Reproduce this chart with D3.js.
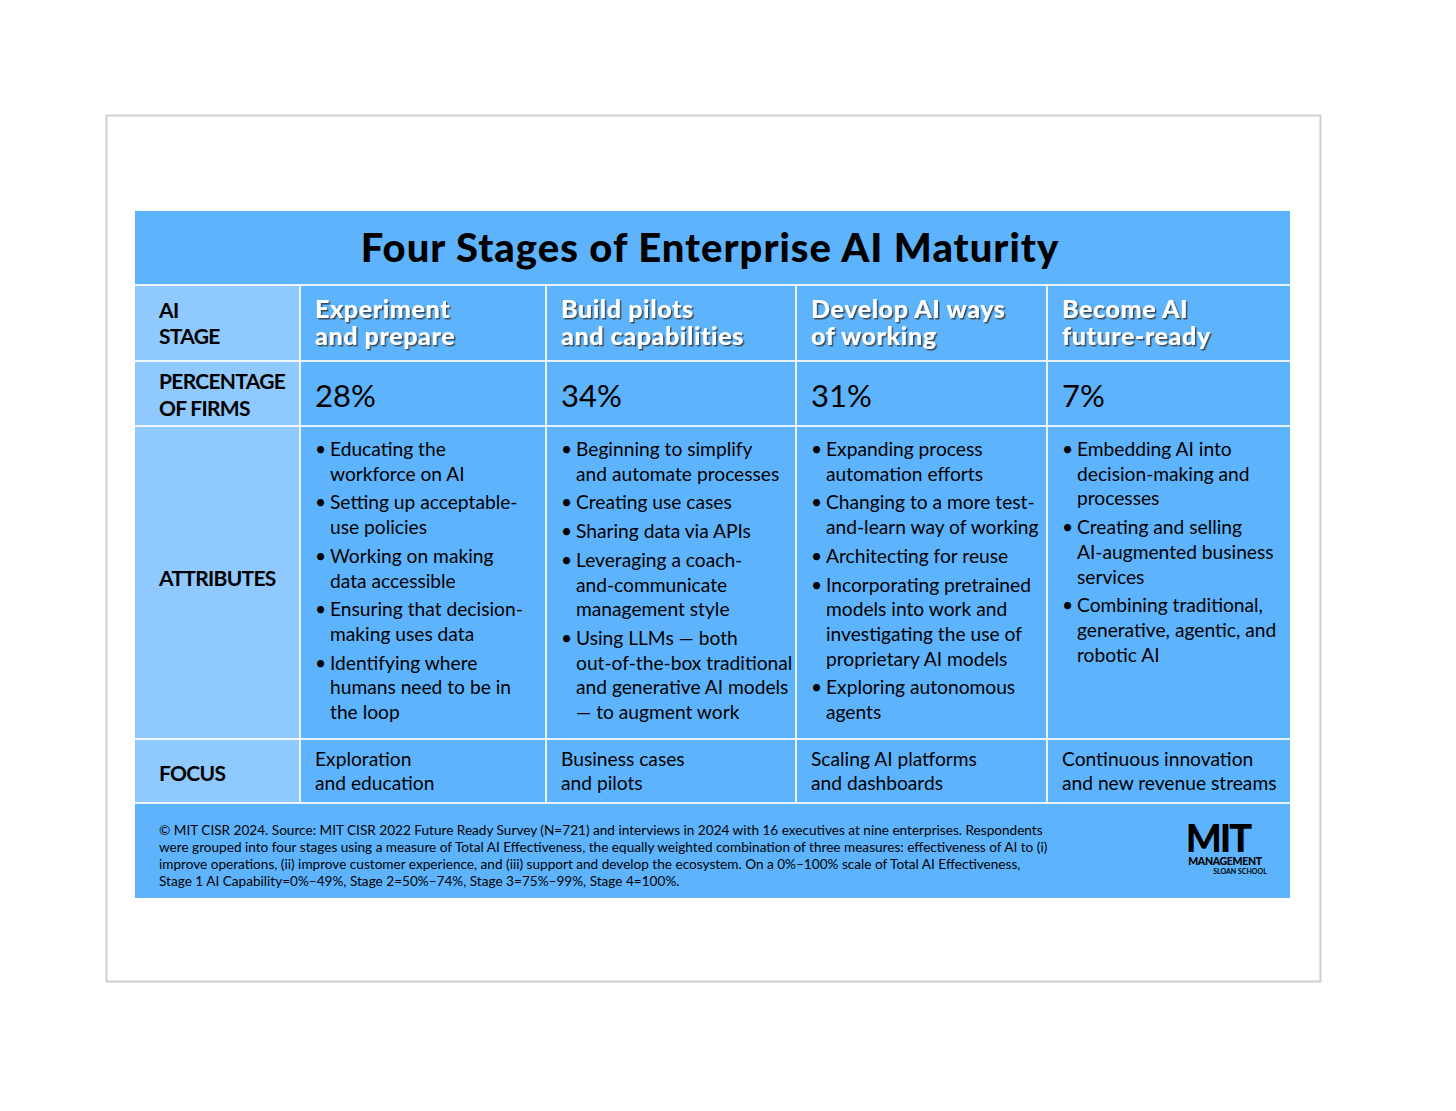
<!DOCTYPE html>
<html>
<head>
<meta charset="utf-8">
<script src="https://cdn.jsdelivr.net/npm/d3@7"></script>
<style>
body { margin: 0; background: #fff; }
text { font-family: "Lato", "Open Sans", sans-serif; }
</style>
</head>
<body>
<svg id="chart" width="1456" height="1111"></svg>
<script>
var title = "Four Stages of Enterprise AI Maturity"
var rowLabels = [["AI", "STAGE"], ["PERCENTAGE", "OF FIRMS"], ["ATTRIBUTES"], ["FOCUS"]]
var stages = [["Experiment", "and prepare"], ["Build pilots", "and capabilities"], ["Develop AI ways", "of working"], ["Become AI", "future-ready"]]
var percentages = ["28%", "34%", "31%", "7%"]
var attributes = [
    [["Educating the", "workforce on AI"], ["Setting up acceptable-", "use policies"], ["Working on making", "data accessible"], ["Ensuring that decision-", "making uses data"], ["Identifying where", "humans need to be in", "the loop"]],
    [["Beginning to simplify", "and automate processes"], ["Creating use cases"], ["Sharing data via APIs"], ["Leveraging a coach-", "and-communicate", "management style"], ["Using LLMs \u2014 both", "out-of-the-box traditional", "and generative AI models", "\u2014 to augment work"]],
    [["Expanding process", "automation efforts"], ["Changing to a more test-", "and-learn way of working"], ["Architecting for reuse"], ["Incorporating pretrained", "models into work and", "investigating the use of", "proprietary AI models"], ["Exploring autonomous", "agents"]],
    [["Embedding AI into", "decision-making and", "processes"], ["Creating and selling", "AI-augmented business", "services"], ["Combining traditional,", "generative, agentic, and", "robotic AI"]]
]
var focus = [["Exploration", "and education"], ["Business cases", "and pilots"], ["Scaling AI platforms", "and dashboards"], ["Continuous innovation", "and new revenue streams"]]
var footnote = [
    "\u00a9 MIT CISR 2024. Source: MIT CISR 2022 Future Ready Survey (N=721) and interviews in 2024 with 16 executives at nine enterprises. Respondents",
    "were grouped into four stages using a measure of Total AI Effectiveness, the equally weighted combination of three measures: effectiveness of AI to (i)",
    "improve operations, (ii) improve customer experience, and (iii) support and develop the ecosystem. On a 0%\u2013100% scale of Total AI Effectiveness,",
    "Stage 1 AI Capability=0%\u201349%, Stage 2=50%\u201374%, Stage 3=75%\u201399%, Stage 4=100%."
]

var svg = d3.select("#chart")
var blue = "#5db4fc", light = "#8fc9fd"

// frame
svg.append("rect").attr("x", 106.5).attr("y", 115.5).attr("width", 1214).attr("height", 866)
    .attr("fill", "#fff").attr("stroke", "#d0d0d0").attr("stroke-width", 2)

var defs = svg.append("defs")
var f = defs.append("filter").attr("id", "shadow")
f.append("feDropShadow").attr("dx", 1.5).attr("dy", 1.5).attr("stdDeviation", 0.6).attr("flood-color", "#333").attr("flood-opacity", 0.8)

var colEdges = [135, 300, 546, 796, 1047, 1290]
var rowEdges = [285, 361, 426, 739, 803]

svg.append("rect").attr("x", 135).attr("y", 211).attr("width", 1155).attr("height", 687).attr("fill", blue)
svg.append("rect").attr("x", 135).attr("y", 285).attr("width", 165).attr("height", 518).attr("fill", light)

// grid lines
svg.selectAll(".hl").data(rowEdges).enter().append("line")
    .attr("x1", 135).attr("x2", 1290).attr("y1", d => d).attr("y2", d => d)
    .attr("stroke", "#fff").attr("stroke-width", 2).attr("opacity", 0.85)
svg.selectAll(".vl").data(colEdges.slice(1, 5)).enter().append("line")
    .attr("x1", d => d).attr("x2", d => d).attr("y1", 285).attr("y2", 803)
    .attr("stroke", "#fff").attr("stroke-width", 2).attr("opacity", 0.85)

svg.append("text").attr("x", 710).attr("y", 262).attr("text-anchor", "middle")
    .attr("font-size", 40).attr("font-weight", 900).attr("letter-spacing", 1).text(title)

function lines(g, arr, x, y, lh) {
    g.selectAll(null).data(arr).enter().append("text")
        .attr("x", x).attr("y", (d, i) => y + i * lh).text(d => d)
}

// row labels
var labelY = [[318, 344], [389, 416], [586], [781]]
rowLabels.forEach(function(l, r) {
    var g = svg.append("g").attr("font-size", 21).attr("font-weight", 700).attr("letter-spacing", -0.7)
    g.selectAll(null).data(l).enter().append("text")
        .attr("x", 159).attr("y", (d, i) => labelY[r][i]).text(d => d)
})

stages.forEach(function(s, c) {
    var x0 = colEdges[c + 1] + 15
    var g = svg.append("g").attr("font-size", 25).attr("font-weight", 900).attr("letter-spacing", 0.6)
        .attr("fill", "#fff").attr("filter", "url(#shadow)")
    lines(g, s, x0, 318, 27)
    svg.append("text").attr("x", x0).attr("y", 407).attr("font-size", 31).text(percentages[c])

    var ga = svg.append("g").attr("font-size", 19.2)
    var y = 456
    attributes[c].forEach(function(b) {
        ga.append("text").attr("x", x0).attr("y", y).text("\u2022")
        lines(ga, b, x0 + 15, y, 24.7)
        y += b.length * 24.7 + 4
    })
    lines(svg.append("g").attr("font-size", 19.2), focus[c], x0, 766, 23.5)
})

lines(svg.append("g").attr("font-size", 13.6), footnote, 159, 835, 17)

// logo
var lg = svg.append("g").attr("text-anchor", "middle")
lg.append("text").attr("x", 1218).attr("y", 852)
    .attr("font-size", 38).attr("font-weight", 900).attr("letter-spacing", -2).text("MIT")
lg.append("text").attr("x", 1225).attr("y", 865)
    .attr("font-size", 10.5).attr("font-weight", 900).attr("letter-spacing", -0.3).text("MANAGEMENT")
lg.append("text").attr("x", 1240).attr("y", 874)
    .attr("font-size", 7).attr("font-weight", 700).text("SLOAN SCHOOL")
</script>
</body>
</html>
